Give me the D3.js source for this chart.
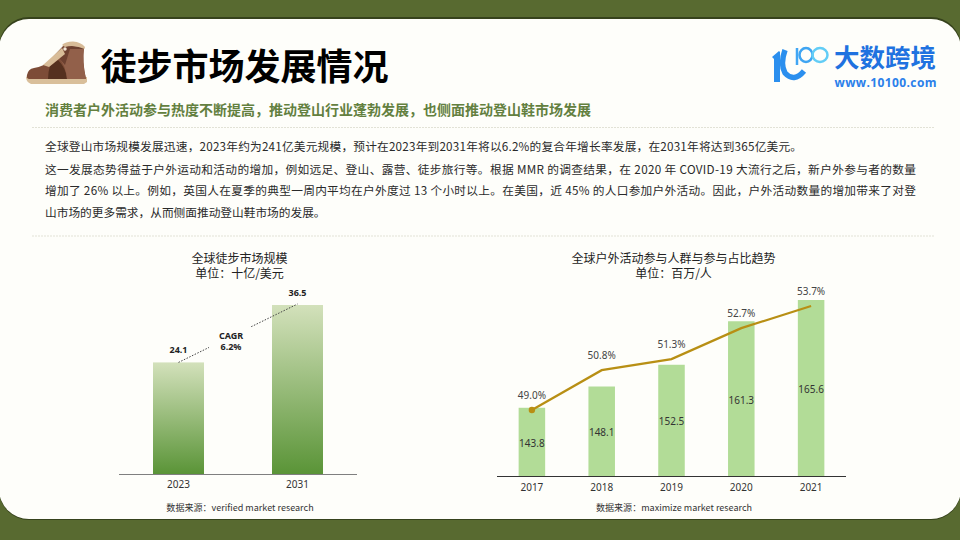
<!DOCTYPE html>
<html><head><meta charset="utf-8">
<script src="https://cdn.jsdelivr.net/npm/d3@7"></script>
<style>html,body{margin:0;padding:0;background:#586a30}svg{display:block}text{font-family:"Noto Sans CJK SC","Noto Sans",sans-serif}</style>
</head><body><svg id="c" width="960" height="540"></svg>
<script>
const marketYears = ["2023", "2031"];
const marketValues = [24.1, 36.5];
const activityYears = ["2017", "2018", "2019", "2020", "2021"];
const activityPeople = [143.8, 148.1, 152.5, 161.3, 165.6];
const activityShare = [49.0, 50.8, 51.3, 52.7, 53.7];
const bodyLines = [
  "全球登山市场规模发展迅速，2023年约为241亿美元规模，预计在2023年到2031年将以6.2%的复合年增长率发展，在2031年将达到365亿美元。",
  "这一发展态势得益于户外运动和活动的增加，例如远足、登山、露营、徒步旅行等。根据 MMR 的调查结果，在 2020 年 COVID-19 大流行之后，新户外参与者的数量",
  "增加了 26% 以上。例如，英国人在夏季的典型一周内平均在户外度过 13 个小时以上。在美国，近 45% 的人口参加户外活动。因此，户外活动数量的增加带来了对登",
  "山市场的更多需求，从而侧面推动登山鞋市场的发展。"
];

const svg = d3.select("#c");
const defs = svg.append("defs");
const g = defs.append("linearGradient").attr("id","barG").attr("x1",0).attr("y1",0).attr("x2",0).attr("y2",1);
g.append("stop").attr("offset","0%").attr("stop-color","#d3e1bb");
g.append("stop").attr("offset","100%").attr("stop-color","#5a9437");

function twoLines(x, y, dy, lines, size, weight, family) {
  const t = svg.append("text").attr("x",x).attr("y",y).attr("text-anchor","middle").attr("font-size",size).attr("font-weight",weight).attr("fill","#222");
  if (family) t.style("font-family",family);
  lines.forEach((l,i)=>t.append("tspan").attr("x",x).attr("dy",i?dy:0).text(l));
}

// frame and card
svg.append("rect").attr("width",960).attr("height",540).attr("fill","#586a30");
svg.append("rect").attr("x",-1).attr("y",17).attr("width",962).attr("height",503).attr("rx",30).attr("fill","#36421c");
svg.append("rect").attr("x",-1).attr("y",19).attr("width",962).attr("height",500).attr("rx",30).attr("fill","#fefefa");

// boot icon
const boot = svg.append("g").attr("transform","translate(20,35)");
boot.append("path").attr("d","M6 42 L67 42 L67 47 L64 49 L11 49 Q6 47 6 42Z").attr("fill","#d9bf9a");
boot.append("path").attr("d","M7 40 Q8 34 14 33 Q24 31 28 27 L44 10 L64 12 Q62 26 66 44 L9 44 Q6 43 7 40Z").attr("fill","#7d4c37");
boot.append("path").attr("d","M28 44 Q28 37 30 31 L38 25 Q46 33 47 44 Z").attr("fill","#55301f");
boot.append("path").attr("d","M47 44 Q46 31 39 23 L47 14 L64 13 Q62 28 66 44 Z").attr("fill","#92604a");
boot.append("path").attr("d","M44 11 L47 14 L39 23 L45 30 L50 14 L64 14 L64 13 L44 10 Z").attr("fill","#6d4030");
boot.append("path").attr("d","M42 10 Q45 6.5 53 6.5 Q61 7 65 12 L64.5 14 Q54 9 45 12 Z").attr("fill","#d8bc98");
boot.append("path").attr("d","M42 13 L23 30 L29 32 L45 19 Z").attr("fill","#d8bc98");
boot.append("circle").attr("cx",45).attr("cy",14).attr("r",1.7).attr("fill","#f3e6d6");

// logo
const logo = svg.append("g").attr("transform","translate(765,40)");
logo.append("path").attr("d","M7 17 L14 11 L15 12 L15 42 L9 42 L9 19 Z").attr("fill","#2b8fee");
logo.append("path").attr("d","M20 10 Q15 24 20 33 Q29 43 39 31").attr("fill","none").attr("stroke","#2b8fee").attr("stroke-width",5.5);
logo.append("path").attr("d","M32 8 L32 25").attr("stroke","#41a6f4").attr("stroke-width",2.5);
logo.append("ellipse").attr("cx",41).attr("cy",15).attr("rx",6.5).attr("ry",7).attr("fill","none").attr("stroke","#3fa5f2").attr("stroke-width",2.5);
logo.append("ellipse").attr("cx",55).attr("cy",15).attr("rx",7.5).attr("ry",7).attr("fill","none").attr("stroke","#62cdf6").attr("stroke-width",2.5);
svg.append("text").attr("x",834).attr("y",67).attr("font-size",25.5).attr("font-weight",700).attr("fill","#1f72e0").text("大数跨境");
svg.append("text").attr("x",834.5).attr("y",87).attr("font-size",12).attr("font-weight",700).attr("fill","#2b80ea").attr("textLength",102).style("font-family","'Open Sans'").text("www.10100.com");

// header
svg.append("text").attr("x",100.5).attr("y",80).attr("font-size",36).attr("font-weight",700).attr("fill","#000").text("徒步市场发展情况");
svg.append("text").attr("x",45).attr("y",115).attr("font-size",14).attr("font-weight",700).attr("fill","#63803f").text("消费者户外活动参与热度不断提高，推动登山行业蓬勃发展，也侧面推动登山鞋市场发展");
[[32,127.5],[32,236]].forEach(d=>svg.append("line").attr("x1",d[0]).attr("x2",934).attr("y1",d[1]).attr("y2",d[1]).attr("stroke","#e2e2d6").attr("stroke-dasharray","2 1"));

// body
const bodyY=[151,174,195,217], bodyW=[757,871,871,null];
bodyLines.forEach((t,i)=>{
  const s=svg.append("text").attr("x",45).attr("y",bodyY[i]).attr("font-size",11.7).attr("fill","#2a2a2a").text(t);
  if(bodyW[i]) s.attr("textLength",bodyW[i]).attr("lengthAdjust","spacing");
});

// left chart
const x1=d3.scaleBand().domain(marketYears).range([119,357]).paddingInner(68/119).paddingOuter(34/119);
const y1=d3.scaleLinear().domain([0,36.5]).range([474,305]);
svg.selectAll(".mb").data(marketValues).join("rect").attr("class","mb")
  .attr("x",(d,i)=>x1(marketYears[i])).attr("width",x1.bandwidth())
  .attr("y",d=>y1(d)).attr("height",d=>y1(0)-y1(d)).attr("fill","url(#barG)");
const ax1=svg.append("g").attr("transform","translate(0,474)").call(d3.axisBottom(x1).tickSize(0).tickPadding(7));
ax1.select(".domain").attr("stroke","#7f7f7f").attr("stroke-width",1).attr("d","M119,0.5H357");
ax1.selectAll("text").attr("font-size",10).attr("fill","#333").style("font-family","'Noto Sans'");
svg.selectAll(".ml").data(marketValues).join("text").attr("class","ml").attr("text-anchor","middle")
  .attr("x",(d,i)=>x1(marketYears[i])+x1.bandwidth()/2).attr("y",d=>y1(d)-9)
  .attr("font-size",9).attr("font-weight",700).attr("fill","#222").style("font-family","'Noto Sans'").text(d=>d.toFixed(1));
// CAGR connector
svg.append("line").attr("x1",x1("2023")+x1.bandwidth()/2).attr("y1",y1(24.1)).attr("x2",x1("2031")+x1.bandwidth()/2).attr("y2",y1(36.5)-1)
  .attr("stroke","#444").attr("stroke-dasharray","1.5 1.5");
svg.append("rect").attr("x",209).attr("y",327).attr("width",45).attr("height",30).attr("fill","#fefefa");
twoLines(231,339,11,["CAGR","6.2%"],9,700,"'Noto Sans'");
twoLines(239.5,262.5,15,["全球徒步市场规模","单位：十亿/美元"],12,400);
svg.append("text").attr("x",240).attr("y",511).attr("text-anchor","middle").attr("font-size",9.05).attr("fill","#333").text("数据来源：verified market research");

// right chart
const x2=d3.scaleBand().domain(activityYears).range([497,846]).paddingInner(0.62).paddingOuter(0.31);
const y2=d3.scaleLinear().domain([130,165.6]).range([476,300]);
const yS=d3.scaleLinear().domain([49,53.7]).range([410,306]);
const cx=y=>x2(y)+x2.bandwidth()/2;
svg.selectAll(".ab").data(activityPeople).join("rect").attr("class","ab")
  .attr("x",(d,i)=>x2(activityYears[i])).attr("width",x2.bandwidth())
  .attr("y",d=>y2(d)).attr("height",d=>y2(130)-y2(d)).attr("fill","#b2dc97");
const ax2=svg.append("g").attr("transform","translate(0,476)").call(d3.axisBottom(x2).tickSize(0).tickPadding(8));
ax2.select(".domain").attr("stroke","#333").attr("stroke-width",1).attr("d","M497,0.5H846");
ax2.selectAll("text").attr("font-size",10).attr("fill","#333").style("font-family","'Noto Sans'");
svg.selectAll(".al").data(activityPeople).join("text").attr("class","al").attr("text-anchor","middle")
  .attr("x",(d,i)=>cx(activityYears[i])).attr("y",d=>(y2(d)+476)/2+5)
  .attr("font-size",10).attr("fill","#333").style("font-family","'Noto Sans'").text(d=>d.toFixed(1));
const ln=d3.line().x((d,i)=>cx(activityYears[i])).y(d=>yS(d));
svg.append("path").datum(activityShare).attr("d",ln).attr("fill","none").attr("stroke","#b88f14").attr("stroke-width",2.2);
svg.append("circle").attr("cx",cx("2017")).attr("cy",yS(49)).attr("r",3.2).attr("fill","#b88f14");
svg.selectAll(".sl").data(activityShare).join("text").attr("class","sl").attr("text-anchor","middle")
  .attr("x",(d,i)=>cx(activityYears[i])).attr("y",d=>yS(d)-11)
  .attr("font-size",10).attr("fill","#444").style("font-family","'Noto Sans'").text(d=>d.toFixed(1)+"%");
twoLines(673.5,262.5,15,["全球户外活动参与人群与参与占比趋势","单位：百万/人"],12,400);
svg.append("text").attr("x",674).attr("y",511).attr("text-anchor","middle").attr("font-size",9.05).attr("fill","#333").text("数据来源：maximize market research");
</script></body></html>
